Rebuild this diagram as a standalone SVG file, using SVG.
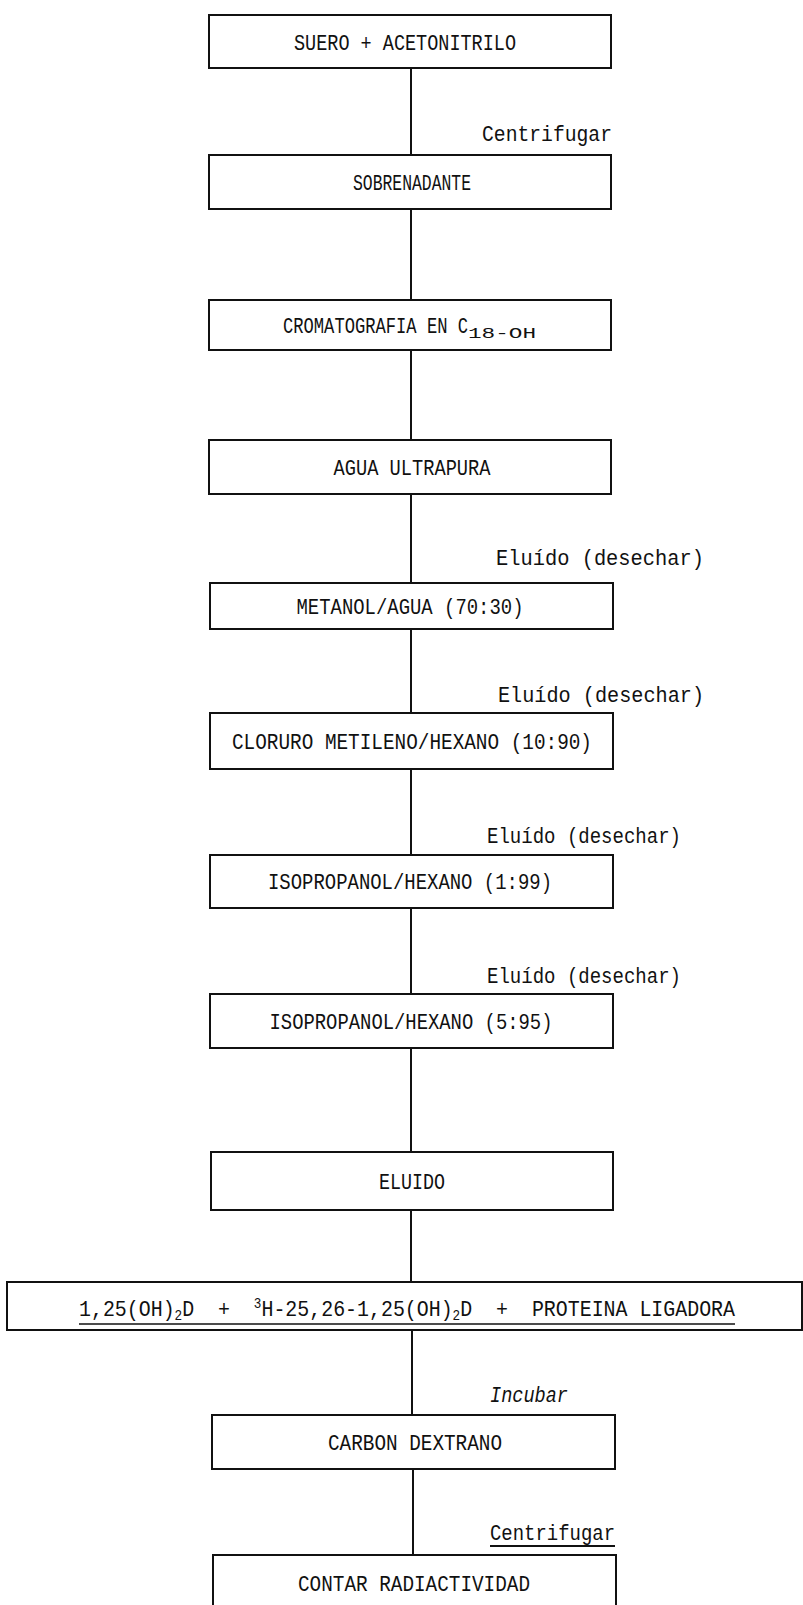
<svg xmlns="http://www.w3.org/2000/svg" width="803" height="1605" viewBox="0 0 803 1605">
<style>
.box{fill:#fff;stroke:#111;stroke-width:2}
.con{stroke:#111;stroke-width:2;fill:none}
.t{font-family:"Liberation Mono",monospace;font-size:22px;fill:#111;text-anchor:middle}
.l{font-family:"Liberation Mono",monospace;font-size:22px;fill:#111}
.sub{font-size:14px}
</style>
<rect width="803" height="1605" fill="#fff"/>
<g id="connectors">
<line class="con" x1="411" y1="68" x2="411" y2="155"/>
<line class="con" x1="411" y1="209" x2="411" y2="300"/>
<line class="con" x1="411" y1="350" x2="411" y2="440"/>
<line class="con" x1="411" y1="494" x2="411" y2="583"/>
<line class="con" x1="411" y1="629" x2="411" y2="713"/>
<line class="con" x1="411" y1="769" x2="411" y2="855"/>
<line class="con" x1="411" y1="908" x2="411" y2="994"/>
<line class="con" x1="411" y1="1048" x2="411" y2="1152"/>
<line class="con" x1="411" y1="1210" x2="411" y2="1282"/>
<line class="con" x1="412" y1="1330" x2="412" y2="1415"/>
<line class="con" x1="413" y1="1469" x2="413" y2="1555"/>
<text class="l" x="482" y="141" textLength="130" lengthAdjust="spacingAndGlyphs">Centrifugar</text>
<text class="l" x="496" y="565" textLength="208" lengthAdjust="spacingAndGlyphs">Eluído (desechar)</text>
<text class="l" x="498" y="702" textLength="206" lengthAdjust="spacingAndGlyphs">Eluído (desechar)</text>
<text class="l" x="487" y="843" textLength="194" lengthAdjust="spacingAndGlyphs">Eluído (desechar)</text>
<text class="l" x="487" y="983" textLength="194" lengthAdjust="spacingAndGlyphs">Eluído (desechar)</text>
<text class="l" x="490" y="1402" font-style="italic" textLength="78" lengthAdjust="spacingAndGlyphs">Incubar</text>
<text class="l" x="490" y="1540" textLength="125" lengthAdjust="spacingAndGlyphs">Centrifugar</text>
<line class="con" x1="490" y1="1546" x2="615" y2="1546" stroke-width="1.5"/>
</g>
<g id="n1"><rect class="box" x="209" y="15" width="402" height="53"/><text class="t" x="405" y="50" textLength="222" lengthAdjust="spacingAndGlyphs">SUERO + ACETONITRILO</text></g>
<g id="n2"><rect class="box" x="209" y="155" width="402" height="54"/><text class="t" x="412" y="190" textLength="118" lengthAdjust="spacingAndGlyphs">SOBRENADANTE</text></g>
<g id="n3"><rect class="box" x="209" y="300" width="402" height="50"/><text class="l" x="283" y="333"><tspan textLength="185" lengthAdjust="spacingAndGlyphs">CROMATOGRAFIA EN C</tspan><tspan class="sub" dy="5" textLength="68" lengthAdjust="spacingAndGlyphs">18-OH</tspan></text></g>
<g id="n4"><rect class="box" x="209" y="440" width="402" height="54"/><text class="t" x="412" y="475" textLength="157" lengthAdjust="spacingAndGlyphs">AGUA ULTRAPURA</text></g>
<g id="n5"><rect class="box" x="210" y="583" width="403" height="46"/><text class="t" x="410" y="614" textLength="227" lengthAdjust="spacingAndGlyphs">METANOL/AGUA (70:30)</text></g>
<g id="n6"><rect class="box" x="210" y="713" width="403" height="56"/><text class="t" x="412" y="749" textLength="360" lengthAdjust="spacingAndGlyphs">CLORURO METILENO/HEXANO (10:90)</text></g>
<g id="n7"><rect class="box" x="210" y="855" width="403" height="53"/><text class="t" x="410" y="889" textLength="284" lengthAdjust="spacingAndGlyphs">ISOPROPANOL/HEXANO (1:99)</text></g>
<g id="n8"><rect class="box" x="210" y="994" width="403" height="54"/><text class="t" x="411" y="1029" textLength="283" lengthAdjust="spacingAndGlyphs">ISOPROPANOL/HEXANO (5:95)</text></g>
<g id="n9"><rect class="box" x="211" y="1152" width="402" height="58"/><text class="t" x="412" y="1189" textLength="66" lengthAdjust="spacingAndGlyphs">ELUIDO</text></g>
<g id="n10"><rect class="box" x="7" y="1282" width="795" height="48"/><text class="l" x="79" y="1316" textLength="656" lengthAdjust="spacingAndGlyphs" style="white-space:pre">1,25(OH)<tspan class="sub" dy="4">2</tspan><tspan dy="-4">D  +  </tspan><tspan class="sub" dy="-8">3</tspan><tspan dy="8">H-25,26-1,25(OH)</tspan><tspan class="sub" dy="4">2</tspan><tspan dy="-4">D  +  PROTEINA LIGADORA</tspan></text><line x1="79" y1="1324" x2="735" y2="1324" stroke="#111" stroke-width="1.5"/></g>
<g id="n11"><rect class="box" x="212" y="1415" width="403" height="54"/><text class="t" x="415" y="1450" textLength="174" lengthAdjust="spacingAndGlyphs">CARBON DEXTRANO</text></g>
<g id="n12"><path class="box" d="M213 1620 V1555 H616 V1620"/><text class="t" x="414" y="1591" textLength="232" lengthAdjust="spacingAndGlyphs">CONTAR RADIACTIVIDAD</text></g>
</svg>
